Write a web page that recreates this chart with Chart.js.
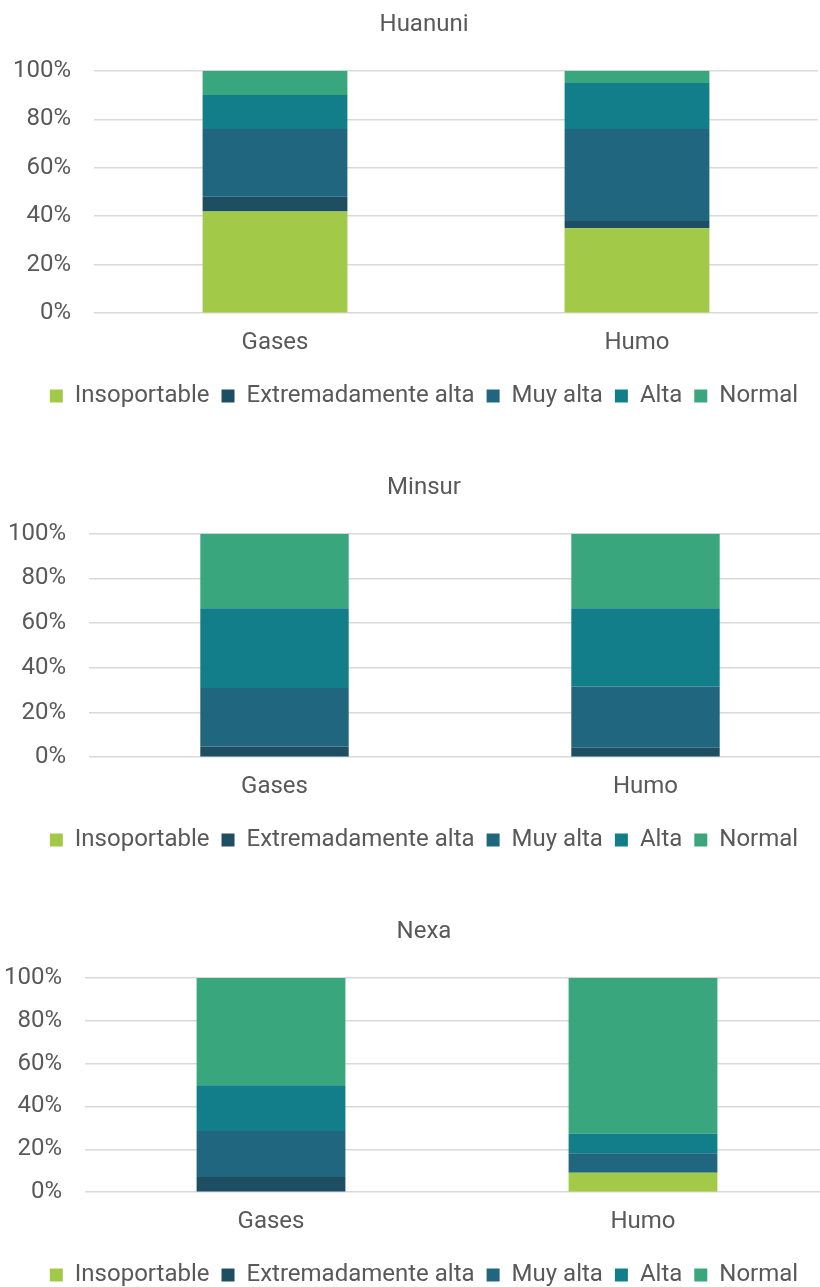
<!DOCTYPE html>
<html>
<head>
<meta charset="utf-8">
<script src="https://cdn.jsdelivr.net/npm/chart.js@4.4.0/dist/chart.umd.min.js"></script>
<style>
    body { margin: 0; background: #fff; overflow: hidden; width: 820px; height: 1287px; position: relative; }
    .chart-box { position: absolute; left: 0; width: 848px; }
</style>
</head>
<body>
<div class="chart-box" id="box1" style="top:0px;height:420px"><canvas id="huanuni"></canvas></div>
<div class="chart-box" id="box2" style="top:463px;height:401px"><canvas id="minsur"></canvas></div>
<div class="chart-box" id="box3" style="top:907px;height:392px"><canvas id="nexa"></canvas></div>
<script>
// categories and series names
const categories = ['Gases', 'Humo'];
const seriesNames = ['Insoportable', 'Extremadamente alta', 'Muy alta', 'Alta', 'Normal'];
const seriesColors = ['#a2c948', '#1e4e62', '#21667f', '#117e8a', '#3aa67d'];
const yTicks = [0, 20, 40, 60, 80, 100];

// Huanuni (% of answers)
const huanuniInsoportable = [42, 35];
const huanuniExtremadamente = [6, 3];
const huanuniMuyAlta = [28, 38];
const huanuniAlta = [14, 19];
const huanuniNormal = [10, 5];

// Minsur
const minsurInsoportable = [0, 0];
const minsurExtremadamente = [4.8, 4.2];
const minsurMuyAlta = [26.2, 27.5];
const minsurAlta = [35.7, 35];
const minsurNormal = [33.3, 33.3];

// Nexa
const nexaInsoportable = [0, 9.1];
const nexaExtremadamente = [7.1, 0];
const nexaMuyAlta = [21.4, 9.1];
const nexaAlta = [21.4, 9.1];
const nexaNormal = [50, 72.7];

const textColor = '#595959';
Chart.defaults.font.family = 'Roboto';
Chart.defaults.color = textColor;

function makeChart(canvasId, title, series, yWidth, rightSpace) {
    const ctx = document.getElementById(canvasId).getContext('2d');
    return new Chart(ctx, {
        type: 'bar',
        data: {
            labels: categories,
            datasets: series.map((values, i) => ({
                label: seriesNames[i],
                data: values,
                backgroundColor: seriesColors[i],
                borderWidth: 0,
                barPercentage: 0.4,
                categoryPercentage: 1
            }))
        },
        options: {
            responsive: true,
            maintainAspectRatio: false,
            animation: false,
            layout: { padding: { left: 0, right: 0, top: 0, bottom: 2 } },
            plugins: {
                title: {
                    display: true,
                    text: title,
                    color: textColor,
                    font: { size: 24, weight: 'normal' },
                    padding: { top: 11, bottom: 31 }
                },
                legend: {
                    position: 'bottom',
                    labels: {
                        boxWidth: 13,
                        boxHeight: 13,
                        padding: 12,
                        color: textColor,
                        font: { size: 24 }
                    }
                },
                tooltip: { enabled: false }
            },
            scales: {
                x: {
                    stacked: true,
                    grid: { display: false, drawTicks: false },
                    border: { display: false },
                    ticks: { padding: 15, font: { size: 24 }, color: textColor }
                },
                y: {
                    stacked: true,
                    min: 0,
                    max: 100,
                    afterFit: (scale) => { scale.width = yWidth; },
                    afterBuildTicks: (scale) => { scale.ticks = yTicks.map(v => ({ value: v })); },
                    grid: { color: '#d9d9d9', lineWidth: 1.5, drawTicks: false },
                    border: { display: false },
                    ticks: {
                        padding: 23,
                        font: { size: 24 },
                        color: textColor,
                        callback: (value) => value + '%'
                    }
                },
                // empty spacer on the right so title and legend sit like the original
                spacer: {
                    type: 'linear',
                    position: 'right',
                    afterFit: (scale) => { scale.width = rightSpace; },
                    grid: { display: false, drawTicks: false },
                    border: { display: false },
                    ticks: { display: false }
                }
            }
        }
    });
}

document.addEventListener('DOMContentLoaded', () => {
    makeChart('huanuni', 'Huanuni',
        [huanuniInsoportable, huanuniExtremadamente, huanuniMuyAlta, huanuniAlta, huanuniNormal], 94, 30);
    makeChart('minsur', 'Minsur',
        [minsurInsoportable, minsurExtremadamente, minsurMuyAlta, minsurAlta, minsurNormal], 89, 17);
    makeChart('nexa', 'Nexa',
        [nexaInsoportable, nexaExtremadamente, nexaMuyAlta, nexaAlta, nexaNormal], 85, 19);
});
</script>
</body>
</html>
